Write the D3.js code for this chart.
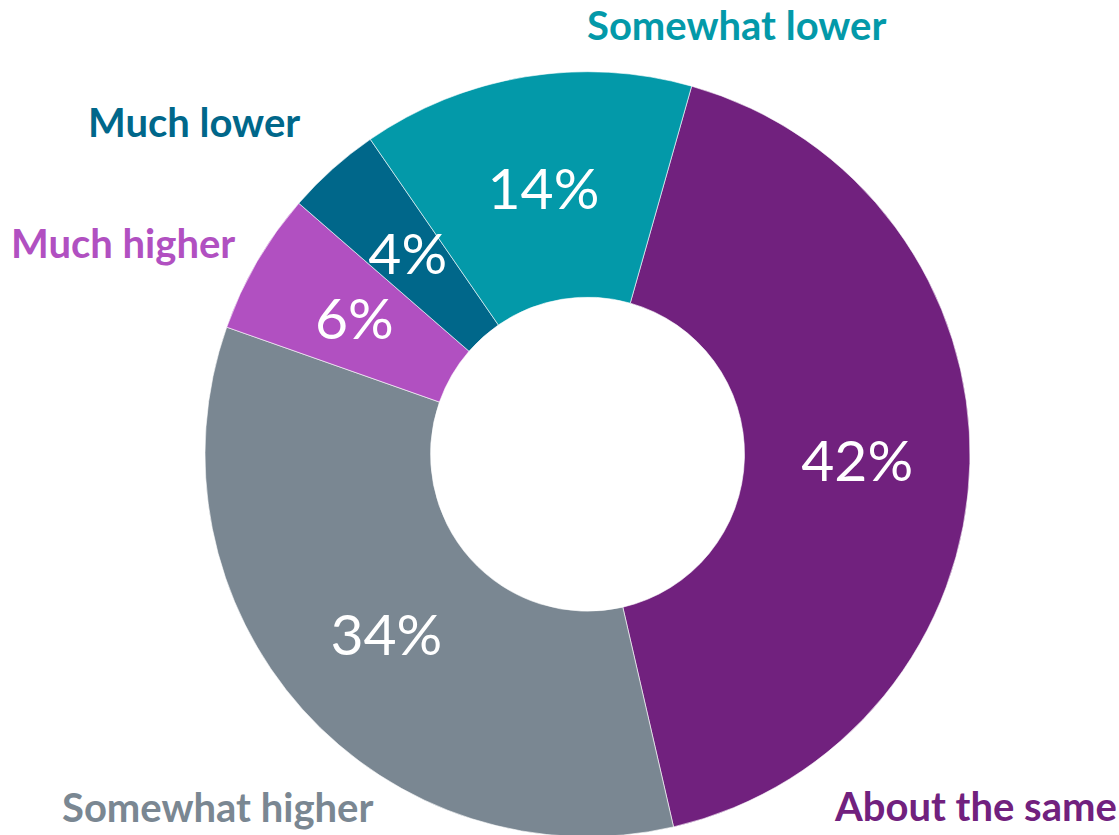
<!DOCTYPE html>
<html>
<head>
<meta charset="utf-8">
<script src="https://cdn.jsdelivr.net/npm/d3@7"></script>
<style>
  html, body { margin: 0; padding: 0; background: #fff; }
  svg { display: block; }
</style>
</head>
<body>
<svg id="chart" width="1119" height="835"></svg>
<script>
// Share of responses, clockwise from the About the same slice
const categories = ["About the same", "Somewhat higher", "Much higher", "Much lower", "Somewhat lower"];
const values = [42, 34, 6, 4, 14];
const colors = ["#71217E", "#7A8792", "#B150C1", "#00678A", "#0399A9"];

const width = 1119, height = 835;
const cx = 587.5, cy = 454.2;
const outerR = 382.5, innerR = 157;
const startDeg = 15.8;

const svg = d3.select("#chart");
const g = svg.append("g").attr("transform", `translate(${cx},${cy})`);

const pie = d3.pie()
  .sort(null)
  .value(d => d.value)
  .startAngle(startDeg * Math.PI / 180)
  .endAngle((startDeg + 360) * Math.PI / 180);

const arc = d3.arc().innerRadius(innerR).outerRadius(outerR);

const data = categories.map((c, i) => ({ name: c, value: values[i], color: colors[i] }));
const arcs = pie(data);

g.selectAll("path.slice")
  .data(arcs)
  .join("path")
  .attr("class", "slice")
  .attr("d", arc)
  .attr("fill", d => d.data.color)
  .attr("stroke", "#ffffff")
  .attr("stroke-width", 0.6);

// Percentages at the slice centroids
g.selectAll("text.pct")
  .data(arcs)
  .join("text")
  .attr("class", "pct")
  .attr("transform", d => `translate(${arc.centroid(d)})`)
  .attr("text-anchor", "middle")
  .attr("dy", "0.36em")
  .attr("fill", "#ffffff")
  .style("font-family", "Lato, 'Open Sans', sans-serif")
  .style("font-size", "57px")
  .text(d => d.data.value + "%");

// Category names outside the ring
const labelPos = {
  "Somewhat lower": [587, 40],
  "Much lower": [88, 137],
  "Much higher": [11, 258],
  "Somewhat higher": [62, 822],
  "About the same": [835, 821]
};

svg.selectAll("text.cat")
  .data(data)
  .join("text")
  .attr("class", "cat")
  .attr("x", d => labelPos[d.name][0])
  .attr("y", d => labelPos[d.name][1])
  .attr("fill", d => d.color)
  .style("font-family", "Lato, 'Open Sans', sans-serif")
  .style("font-weight", "bold")
  .style("font-size", "40px")
  .text(d => d.name);
</script>
</body>
</html>
